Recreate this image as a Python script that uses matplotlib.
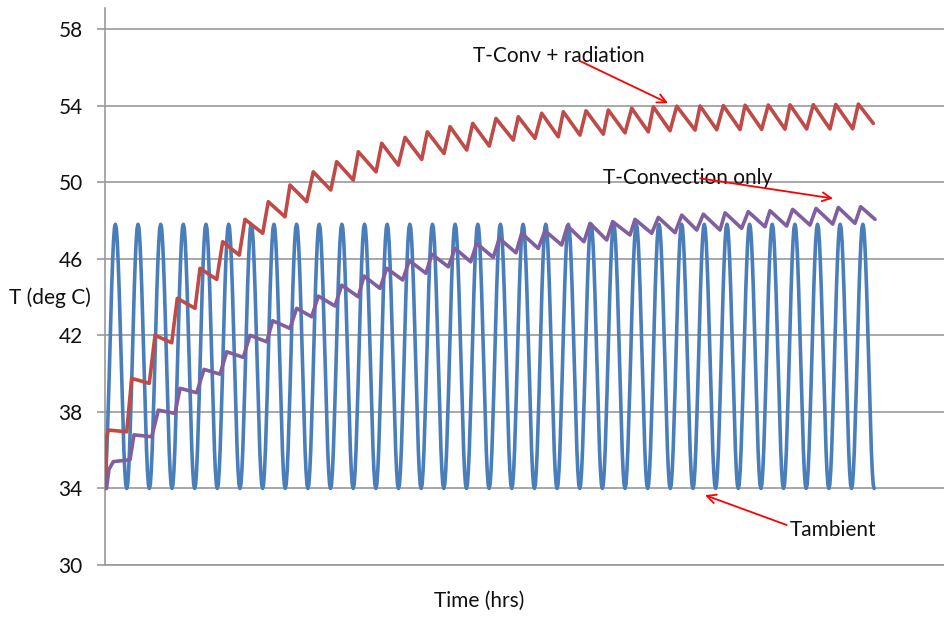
import numpy as np
import matplotlib
matplotlib.use("Agg")
import matplotlib.pyplot as plt

plt.rcParams['font.family'] = ['Lato', 'DejaVu Sans']

# ===== DATA =====
# ambient temperature over one day, hourly (hour 0..23), repeats every day
ambient_day = [34.2, 34.9, 36.0, 37.5, 39.1, 40.9, 42.7, 44.4, 45.8, 46.9, 47.6, 47.8,
               47.6, 46.9, 45.8, 44.4, 42.7, 40.9, 39.1, 37.5, 36.0, 34.9, 34.2, 34.0]
n_days = 34

# T-Conv + radiation: turning points (hrs, deg C)
rad_hours = [0, 1.4, 3.5, 23.0, 28.3, 46.9, 53.0, 70.7, 76.6, 95.4, 100.7, 118.4, 124.7,
             142.3, 148.3, 167.1, 173.0, 190.7, 196.0, 213.7, 220.7, 239.2, 245.5, 263.1,
             268.4, 287.2, 293.2, 310.8, 317.9, 335.6, 341.5, 359.2, 365.6, 383.3, 389.6,
             407.2, 414.3, 432.6, 437.9, 455.6, 462.7, 480.3, 485.6, 503.3, 509.7, 528.0,
             533.3, 551.0, 558.1, 575.7, 581.0, 598.7, 605.8, 625.2, 630.5, 648.2, 655.2,
             672.9, 678.2, 695.8, 702.8, 720.5, 725.8, 743.5, 750.5, 768.2, 774.3, 792.3,
             798.2, 814.1]
rad_temp = [34.0, 36.6, 37.05, 36.96, 39.75, 39.49, 42.0, 41.61, 43.93, 43.41, 45.5, 44.92,
            46.89, 46.19, 48.06, 47.33, 48.98, 48.19, 49.85, 48.98, 50.54, 49.59, 51.07,
            50.11, 51.59, 50.54, 52.03, 50.89, 52.34, 51.19, 52.63, 51.5, 52.9, 51.68, 53.07,
            51.89, 53.33, 52.2, 53.42, 52.29, 53.6, 52.37, 53.68, 52.46, 53.73, 52.51, 53.77,
            52.58, 53.86, 52.63, 53.94, 52.69, 53.97, 52.72, 53.98, 52.74, 54.0, 52.75, 54.02,
            52.76, 54.03, 52.77, 54.04, 52.78, 54.05, 52.78, 54.06, 52.79, 54.08, 53.07]

# T-Convection only: turning points (hrs, deg C)
conv_hours = [0, 1.6, 4.2, 8.8, 26.5, 30.7, 49.5, 56.5, 74.2, 79.5, 97.2, 104.9, 121.9,
              129.0, 146.5, 153.6, 171.3, 177.7, 196.0, 203.1, 219.0, 226.0, 243.7, 250.8,
              268.4, 274.4, 291.4, 298.5, 315.4, 322.4, 340.1, 346.2, 363.8, 370.9, 387.5,
              393.8, 411.4, 417.8, 435.5, 441.5, 459.1, 466.2, 483.9, 489.9, 507.5, 513.9,
              531.6, 537.9, 556.3, 561.6, 579.3, 586.3, 604.0, 611.1, 627.0, 634.0, 651.7,
              657.0, 674.6, 681.6, 699.3, 704.6, 722.3, 728.6, 747.0, 753.4, 771.1, 777.0,
              794.7, 800.7, 815.9]
conv_temp = [34.0, 34.0, 35.0, 35.4, 35.5, 36.8, 36.7, 38.09, 37.92, 39.23, 39.0, 40.22,
             39.97, 41.14, 40.85, 42.0, 41.66, 42.76, 42.36, 43.41, 42.97, 44.05, 43.53,
             44.62, 44.01, 45.1, 44.45, 45.5, 44.89, 45.9, 45.24, 46.24, 45.58, 46.54, 45.84,
             46.8, 46.07, 47.06, 46.31, 47.33, 46.54, 47.46, 46.72, 47.72, 46.89, 47.85,
             46.98, 47.94, 47.24, 48.06, 47.33, 48.16, 47.36, 48.28, 47.5, 48.33, 47.5, 48.4,
             47.59, 48.46, 47.67, 48.51, 47.71, 48.58, 47.76, 48.63, 47.81, 48.68, 47.85,
             48.72, 48.06]

y_ticks = [30, 34, 38, 42, 46, 50, 54, 58]

amb = np.tile(ambient_day, n_days)
amb_hours = np.arange(len(amb))

# ===== PLOT =====
fig = plt.figure(figsize=(9.44, 6.2), dpi=100)
ax = fig.add_axes([105 / 944, 1 - 565 / 620, 1 - 105 / 944, (565 - 8) / 620])

grid_c = '#9a9a9a'
txt_c = '#111111'
fs = 15
ax.plot(amb_hours, amb, color='#4A7EBB', lw=2.6, solid_joinstyle='round',
        solid_capstyle='round', zorder=3)
ax.plot(rad_hours, rad_temp, color='#BE4B48', lw=2.6, solid_joinstyle='round',
        solid_capstyle='round', zorder=4)
ax.plot(conv_hours, conv_temp, color='#7F5FA0', lw=2.6, solid_joinstyle='round',
        solid_capstyle='round', zorder=4)

ax.set_xlim(0, 889)
ax.set_ylim(30, 59.1)
ax.set_yticks(y_ticks)
ax.set_xticks([])
ax.grid(axis='y', color=grid_c, lw=1.2)
ax.set_axisbelow(True)
for s in ['top', 'right']:
    ax.spines[s].set_visible(False)
for s in ['left', 'bottom']:
    ax.spines[s].set_color(grid_c)
    ax.spines[s].set_linewidth(1.2)
ax.tick_params(axis='y', length=6, width=1.2, color=grid_c, labelsize=fs, pad=10,
               labelcolor=txt_c)

fig.text(50 / 944, 1 - 298 / 620, 'T (deg C)', ha='center', va='center', fontsize=fs,
         color=txt_c)
fig.text(479 / 944, 1 - 601 / 620, 'Time (hrs)', ha='center', va='center', fontsize=fs,
         color=txt_c)

# annotations
arrow = dict(arrowstyle='->', color='red', lw=1.3, shrinkA=0, shrinkB=0, mutation_scale=16)
ax.text(389.6, 56.28, 'T-Conv + radiation', fontsize=fs, va='baseline', color=txt_c)
ax.annotate('', xy=(596.6, 54.13), xytext=(503.3, 56.33), arrowprops=arrow, zorder=6)
ax.text(527.4, 49.9, 'T-Convection only', fontsize=fs, va='baseline', color=txt_c)
ax.annotate('', xy=(771.4, 49.15), xytext=(630.5, 50.2), arrowprops=arrow, zorder=6)
ax.text(725.8, 31.51, 'Tambient', fontsize=fs, va='baseline', color=txt_c)
ax.annotate('', xy=(635.8, 33.65), xytext=(722.3, 32.09), arrowprops=arrow, zorder=6)

fig.savefig('out.png', dpi=100)
